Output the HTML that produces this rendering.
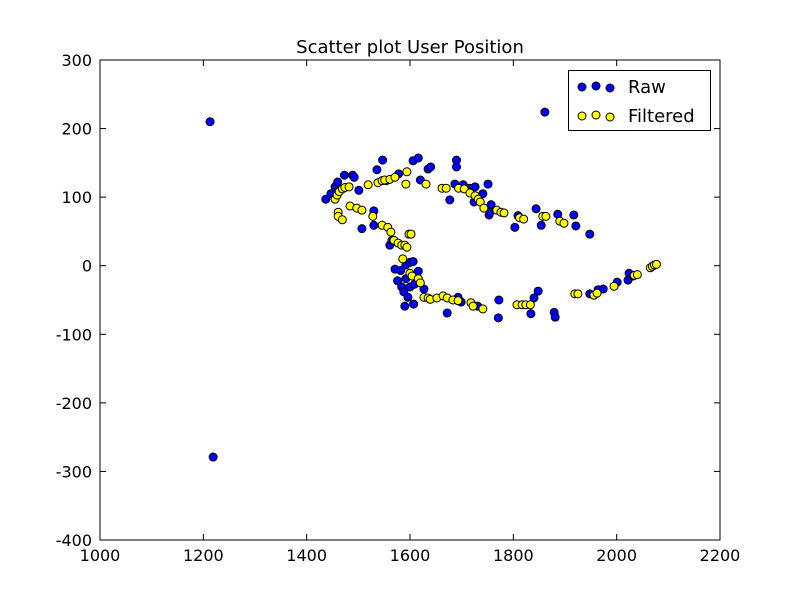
<!DOCTYPE html>
<html><head><meta charset="utf-8"><style>
body{margin:0;background:#fff}
svg text{font-family:"DejaVu Sans","Liberation Sans",sans-serif}
</style></head><body>
<svg id="chart" width="800" height="600" xmlns="http://www.w3.org/2000/svg">
<rect width="800" height="600" fill="#fff"/>
<text x="410" y="53" text-anchor="middle" font-size="18">Scatter plot User Position</text>
<g id="plot"></g>
<g id="axes"></g>
<g>
<rect x="568.5" y="70.5" width="142" height="60" fill="#fff" stroke="#000"/>
<g>
<circle cx="582" cy="87" r="4" fill="#0000ff" stroke="#000"/><circle cx="596" cy="86" r="4" fill="#0000ff" stroke="#000"/><circle cx="610" cy="88" r="4" fill="#0000ff" stroke="#000"/>
<text x="628" y="93" font-size="18">Raw</text></g>
<g>
<circle cx="582" cy="116" r="4" fill="#ffff00" stroke="#000"/><circle cx="596" cy="115" r="4" fill="#ffff00" stroke="#000"/><circle cx="610" cy="117" r="4" fill="#ffff00" stroke="#000"/>
<text x="628" y="122" font-size="18">Filtered</text></g>
</g>
</svg>
<script>
const rawX=[1213,1219,1861,1437,1447,1455,1460,1463,1473,1489,1492,1501,1507,1530,1530,1536,1547,1554,1561,1565,1578,1606,1616,1620,1635,1640,1571,1576,1584,1588,1590,1596,1582,1592,1600,1606,1592,1600,1607,1609,1616,1627,1672,1677,1687,1690,1690,1693,1699,1703,1716,1726,1724,1731,1741,1751,1753,1757,1755,1772,1771,1803,1809,1834,1840,1848,1844,1854,1879,1881,1886,1917,1921,1948,1948,1964,1974,2001,2022,2024,2032];
const rawY=[210,-279,224,97,105,115,122,110,132,132,129,110,54,80,59,140,154,124,30,37,134,153,157,125,141,144,-5,-22,-31,-38,-59,-46,-7,1,5,6,-19,-31,-56,-27,-8,-34,-69,96,119,154,144,-46,-53,118,113,115,93,-59,105,119,74,89,78,-50,-76,56,73,-70,-47,-37,83,59,-68,-75,75,74,58,46,-41,-35,-34,-24,-21,-11,-15];
const filtX=[1455,1459,1463,1469,1474,1482,1461,1461,1469,1484,1497,1507,1519,1528,1538,1546,1551,1561,1571,1594,1592,1546,1557,1563,1569,1577,1584,1590,1594,1586,1598,1602,1600,1604,1616,1620,1627,1635,1639,1652,1664,1672,1683,1693,1631,1662,1670,1694,1705,1716,1726,1732,1736,1743,1768,1776,1782,1812,1820,1718,1722,1741,1807,1817,1824,1833,1857,1863,1890,1898,1919,1925,1956,1962,1995,2034,2040,2065,2069,2073,2077];
const filtY=[97,103,108,112,114,115,78,72,67,87,84,81,118,72,121,124,125,126,129,137,119,59,56,49,37,33,30,30,27,10,46,46,-11,-15,-19,-25,-46,-47,-49,-47,-44,-47,-50,-51,119,113,113,113,112,106,102,97,93,84,81,78,77,70,68,-54,-59,-63,-57,-57,-57,-57,72,72,65,62,-41,-41,-43,-40,-30,-14,-13,-3,-1,1,2];
const xTicks=[1000,1200,1400,1600,1800,2000,2200];
const yTicks=[-400,-300,-200,-100,0,100,200,300];
const L=100,R=720,T=60,B=540,X0=1000,X1=2200,Y0=-400,Y1=300;
const sx=v=>L+(v-X0)/(X1-X0)*(R-L);
const sy=v=>B-(v-Y0)/(Y1-Y0)*(B-T);
const NS='http://www.w3.org/2000/svg';
const plot=document.getElementById('plot'),axes=document.getElementById('axes');
function mk(t,a,p){const e=document.createElementNS(NS,t);for(const k in a)e.setAttribute(k,a[k]);p.appendChild(e);return e;}
rawX.forEach((v,i)=>{const c=mk('circle',{cx:sx(v),cy:sy(rawY[i]),r:4,fill:'#0000ff',stroke:'#000'},plot);

});
filtX.forEach((v,i)=>{const c=mk('circle',{cx:sx(v),cy:sy(filtY[i]),r:4,fill:'#ffff00',stroke:'#000'},plot);

});
const fr=mk('rect',{x:L,y:T,width:R-L,height:B-T,fill:'none',stroke:'#000'},axes);


xTicks.forEach(v=>{const x=sx(v);mk('line',{x1:x,x2:x,y1:B,y2:B-6,stroke:'#000'},axes);mk('line',{x1:x,x2:x,y1:T,y2:T+6,stroke:'#000'},axes);
const t=mk('text',{x:x,y:B+21,'text-anchor':'middle','font-size':16},axes);t.textContent=v;

});
yTicks.forEach(v=>{const y=sy(v);mk('line',{x1:L,x2:L+6,y1:y,y2:y,stroke:'#000'},axes);mk('line',{x1:R,x2:R-6,y1:y,y2:y,stroke:'#000'},axes);
const t=mk('text',{x:L-8,y:y+6,'text-anchor':'end','font-size':16},axes);t.textContent=v;

});
</script>
</body></html>
